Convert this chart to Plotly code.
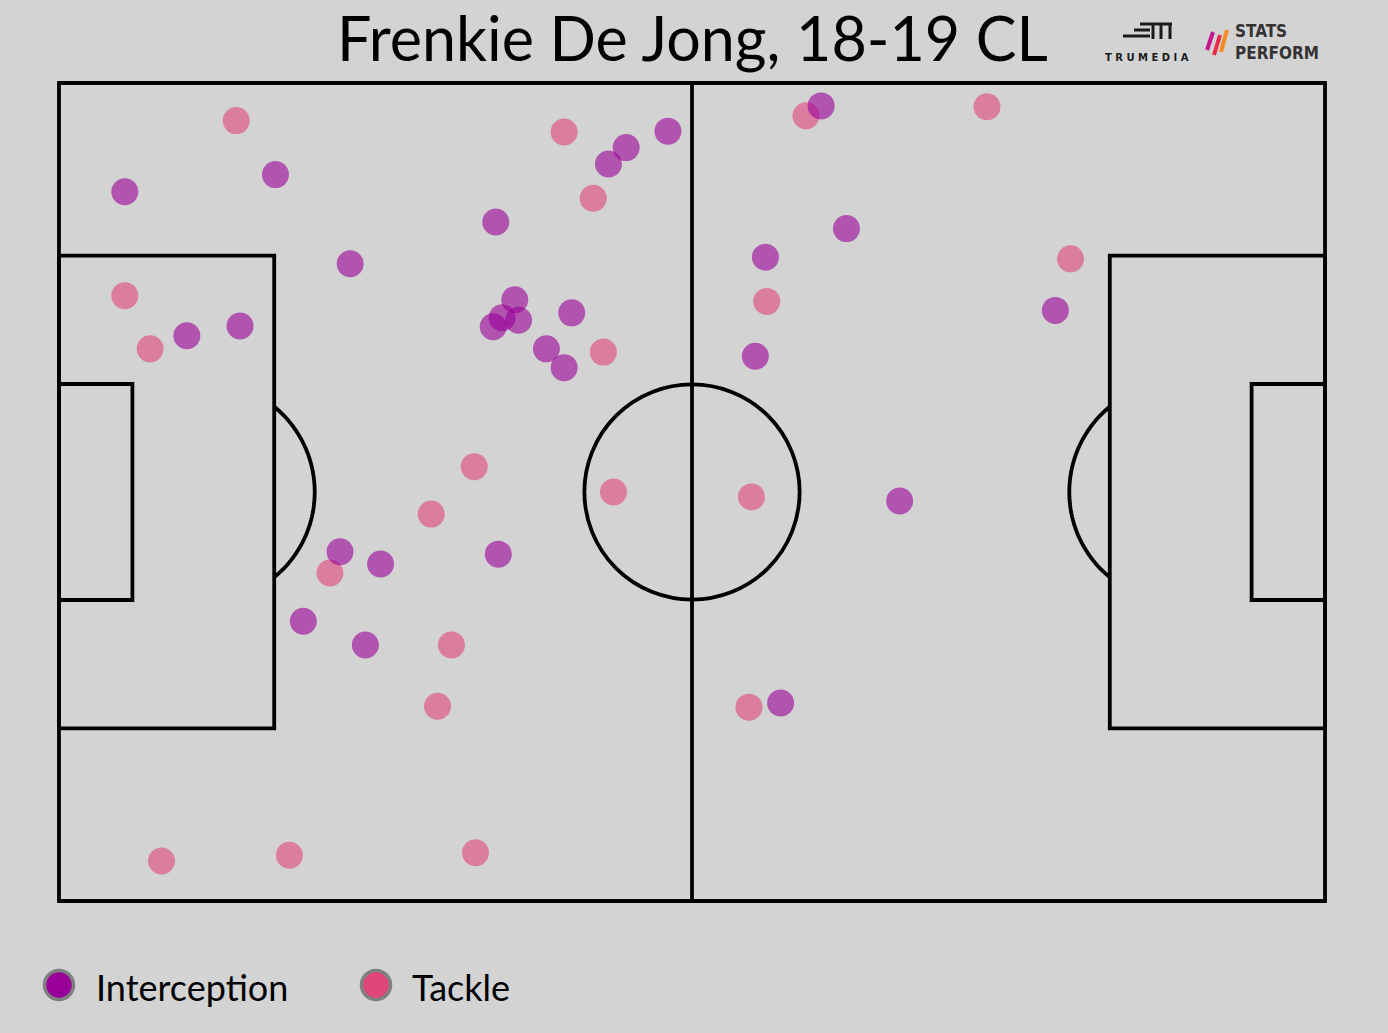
import numpy as np
import plotly.graph_objects as go

# ---------------- data (Opta-style pitch coordinates, 0-100) ----------------
int_x = [5.2, 17.1, 23.0, 10.1, 14.3, 34.5, 43.4, 44.8, 48.1, 36.0, 34.3, 35.0, 36.3,
         40.5, 38.5, 39.9, 22.2, 25.4, 34.7, 19.3, 24.2, 60.2, 62.2, 55.8, 55.0, 78.7,
         66.4, 57.0]
int_y = [86.7, 88.8, 77.9, 69.1, 70.3, 83.0, 90.1, 92.1, 94.1, 73.5, 70.2, 71.3, 71.0,
         71.9, 67.5, 65.2, 42.7, 41.2, 42.4, 34.2, 31.3, 97.2, 82.2, 78.7, 66.6, 72.2,
         48.9, 24.2]
tck_x = [14.0, 39.9, 42.2, 5.2, 7.2, 43.0, 32.8, 29.4, 43.8, 21.4, 31.0, 29.9, 8.1,
         18.2, 32.9, 59.0, 73.3, 79.9, 55.9, 54.7, 54.5]
tck_y = [95.4, 94.0, 85.9, 74.0, 67.5, 67.1, 53.1, 47.3, 50.0, 40.1, 31.3, 23.8, 4.9,
         5.6, 5.9, 96.0, 97.1, 78.5, 73.3, 49.4, 23.7]

title = "Frenkie De Jong, 18-19 CL"
series_names = ["Interception", "Tackle"]
series_colors = ["#990099", "#e0457b"]

W, H = 1388, 1033
BG = "#d3d3d3"


def px(xp):
    return xp / W


def py(yp):
    return 1 - yp / H


fig = go.Figure()

fig.add_trace(go.Scatter(x=tck_x, y=tck_y, mode="markers", name=series_names[1],
                         marker=dict(size=27, color=series_colors[1], opacity=0.6,
                                     line=dict(width=0)),
                         showlegend=False, cliponaxis=False, hoverinfo="x+y"))
fig.add_trace(go.Scatter(x=int_x, y=int_y, mode="markers", name=series_names[0],
                         marker=dict(size=27, color=series_colors[0], opacity=0.6,
                                     line=dict(width=0)),
                         showlegend=False, cliponaxis=False, hoverinfo="x+y"))

LINE = dict(color="black", width=3.8)
shapes = []
# pitch outline & halfway
shapes.append(dict(type="rect", x0=0, x1=100, y0=0, y1=100, xref="x", yref="y", line=LINE))
shapes.append(dict(type="line", x0=50, x1=50, y0=0, y1=100, xref="x", yref="y", line=LINE))
# penalty areas
for (a, b) in [(0, 17), (83, 100)]:
    shapes.append(dict(type="rect", x0=a, x1=b, y0=21.1, y1=78.9, xref="x", yref="y", line=LINE))
for (a, b) in [(0, 5.8), (94.2, 100)]:
    shapes.append(dict(type="rect", x0=a, x1=b, y0=36.8, y1=63.2, xref="x", yref="y", line=LINE))
# centre circle
shapes.append(dict(type="circle", x0=50 - 8.5, x1=50 + 8.5, y0=50 - 13.15, y1=50 + 13.15,
                   xref="x", yref="y", line=LINE))
# penalty arcs
rx, ry = 8.7, 13.46
for spot, sign, edge in [(11.5, 1, 17.0), (88.5, -1, 83.0)]:
    th_max = np.arccos((edge - spot) * sign / rx)
    th = np.linspace(-th_max, th_max, 60)
    xs = spot + sign * rx * np.cos(th)
    ys = 50 + ry * np.sin(th)
    path = "M " + " L ".join(f"{a:.3f},{b:.3f}" for a, b in zip(xs, ys))
    shapes.append(dict(type="path", path=path, xref="x", yref="y", line=LINE))

# legend symbols (manual)
annotations = []
leg_y = 985
for name, col, cx, tx in [(series_names[0], series_colors[0], 59, 94),
                          (series_names[1], series_colors[1], 376, 410)]:
    r = 14.5
    shapes.append(dict(type="circle", xref="paper", yref="paper",
                       x0=px(cx - r), x1=px(cx + r), y0=py(leg_y + r), y1=py(leg_y - r),
                       fillcolor=col, line=dict(color="#808080", width=3.5)))
    annotations.append(dict(text=name, x=px(tx), y=py(leg_y + 2), xref="paper", yref="paper",
                            xanchor="left", yanchor="middle", showarrow=False,
                            font=dict(family="Lato", size=36, color="black")))

# title
annotations.append(dict(text=title, x=px(692), y=py(37), xref="paper", yref="paper",
                        xanchor="center", yanchor="middle", showarrow=False,
                        font=dict(family="Lato", size=61, color="black")))

# TruMedia logo (approximation)
LG = dict(color="#1a1a1a", width=3)
for (x0, y0, x1, y1) in [(1140, 24, 1172, 24), (1134, 30, 1150, 30), (1123, 36, 1150, 36),
                         (1153, 24, 1153, 39), (1161, 24, 1161, 39), (1170, 24, 1170, 39)]:
    shapes.append(dict(type="line", xref="paper", yref="paper", x0=px(x0), x1=px(x1),
                       y0=py(y0), y1=py(y1), line=LG))
annotations.append(dict(text="<b>T R U M E D I A</b>", x=px(1147), y=py(57), xref="paper",
                        yref="paper", xanchor="center", yanchor="middle", showarrow=False,
                        font=dict(family="DejaVu Sans", size=10, color="#1a1a1a")))
# Stats Perform logo (approximation)
for (x0, y0, x1, y1, c) in [(1207, 50, 1213, 32, "#c4168f"), (1214, 55, 1220, 35, "#ec2a4a"),
                            (1221, 52, 1227, 30, "#f68b1f")]:
    shapes.append(dict(type="line", xref="paper", yref="paper", x0=px(x0), x1=px(x1),
                       y0=py(y0), y1=py(y1), line=dict(color=c, width=4)))
annotations.append(dict(text="<b>STATS<br>PERFORM</b>", x=px(1233), y=py(42), xref="paper",
                        yref="paper", xanchor="left", yanchor="middle", showarrow=False,
                        align="left",
                        font=dict(family="DejaVu Sans Condensed", size=17, color="#333333")))

fig.update_layout(
    width=W, height=H,
    margin=dict(l=0, r=0, t=0, b=0),
    paper_bgcolor=BG, plot_bgcolor=BG,
    showlegend=False,
    shapes=shapes, annotations=annotations,
    xaxis=dict(range=[-1, 101], domain=[0.03337, 0.96375], visible=False, fixedrange=True),
    yaxis=dict(range=[-1, 101], domain=[0.11985, 0.92759], visible=False, fixedrange=True),
)

fig.write_html("out.html",
               config={"displayModeBar": False},
               post_script="document.body.style.margin='0';"
                           "document.body.style.overflow='hidden';"
                           "document.body.style.background='#d3d3d3';")
